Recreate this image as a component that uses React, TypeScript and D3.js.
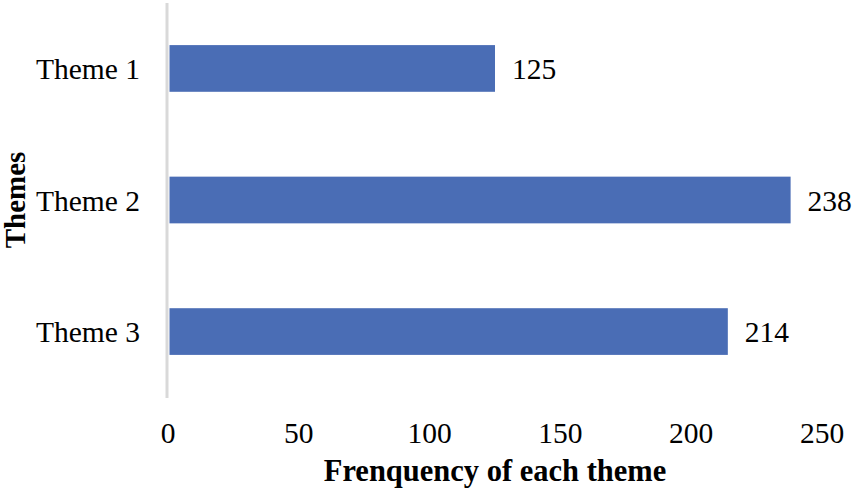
import React from "react";
import * as d3 from "d3";

const categories = ["Theme 1", "Theme 2", "Theme 3"];
const values = [125, 238, 214];
const xTicks = [0, 50, 100, 150, 200, 250];

const W = 854;
const H = 492;

export default function App() {
  const x = d3.scaleLinear().domain([0, 250]).range([168, 822]);
  const y = d3.scaleBand<string>().domain(categories).range([3, 397]).paddingInner(0.645).paddingOuter(0.32);
  const font = "'Liberation Serif', 'Times New Roman', serif";
  return (
    <svg width={W} height={H} style={{ position: "absolute", left: 0, top: 0, background: "#fff" }}>
      <line x1={x(0) - 1} x2={x(0) - 1} y1={3} y2={398} stroke="#D9D9D9" strokeWidth={3} />
      {categories.map((c, i) => (
        <g key={c}>
          <rect x={x(0) + 1.5} y={y(c)!} width={x(values[i]) - x(0) - 1.5} height={y.bandwidth()} fill="#4A6DB5" />
          <text x={140} y={y(c)! + y.bandwidth() / 2 + 10.5} textAnchor="end" fontFamily={font} fontSize={29.5} fill="#000">
            {c}
          </text>
          <text x={x(values[i]) + 17} y={y(c)! + y.bandwidth() / 2 + 10.5} fontFamily={font} fontSize={29.5} fill="#000">
            {values[i]}
          </text>
        </g>
      ))}
      {xTicks.map((t) => (
        <text key={t} x={x(t)} y={443} textAnchor="middle" fontFamily={font} fontSize={29.5} fill="#000">
          {t}
        </text>
      ))}
      <text x={495} y={481} textAnchor="middle" fontFamily={font} fontSize={30.5} fontWeight="bold" fill="#000">
        Frenquency of each theme
      </text>
      <text transform={`translate(25,200) rotate(-90)`} textAnchor="middle" fontFamily={font} fontSize={29} fontWeight="bold" fill="#000">
        Themes
      </text>
    </svg>
  );
}
